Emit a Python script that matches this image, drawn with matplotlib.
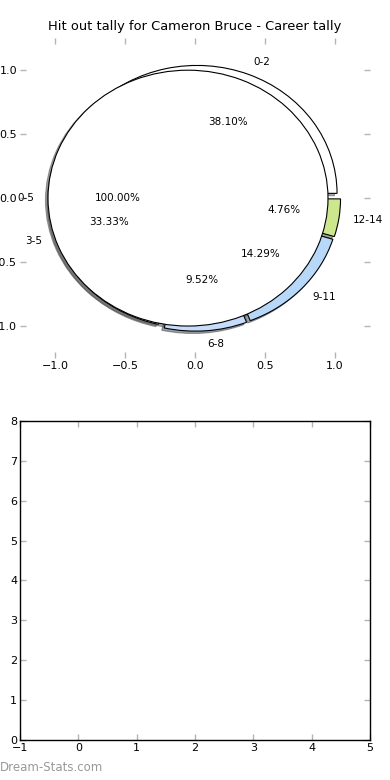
import matplotlib
matplotlib.use('Agg')
import matplotlib.pyplot as plt

# Hit out tally data
range_labels = ['0-2', '3-5', '6-8', '9-11', '12-14']
range_counts = [8, 7, 2, 3, 1]
range_colours = ['#ffffff', '#ffffff', '#c6dcfa', '#b8d8fa', '#cde88c']
range_explode = [0.04, 0.04, 0.04, 0.04, 0.04]

total_labels = ['0-5']
total_counts = [21]

pie_ticks = [-1.0, -0.5, 0.0, 0.5, 1.0]
bar_xlim = (-1, 5)
bar_ylim = (0, 8)

TICK_GREY = '#b4b4b4'
SHADOW = {'ox': -0.013, 'oy': -0.013, 'label': '_nolegend_'}


def style_ticks(ax):
    ax.tick_params(direction='in', length=4, width=1, color=TICK_GREY,
                   labelsize=8, pad=2, top=True, right=True)


def main():
    fig = plt.figure(figsize=(3.9, 7.8), dpi=100)

    # Top: pie of the tally
    ax1 = fig.add_axes([0.0513, 0.541, 0.8974, 0.410])
    ax1.pie(range_counts, labels=range_labels, colors=range_colours,
            explode=range_explode, autopct='%1.2f%%', shadow=SHADOW,
            startangle=0, textprops={'fontsize': 7.5},
            wedgeprops={'edgecolor': 'black', 'linewidth': 0.8})
    ax1.pie(total_counts, labels=total_labels, colors=['#ffffff'],
            explode=[0.05], autopct='%1.2f%%', pctdistance=0.5, shadow=SHADOW,
            startangle=0, textprops={'fontsize': 7.5},
            wedgeprops={'edgecolor': 'black', 'linewidth': 0.8})
    ax1.set_aspect('auto')
    ax1.set_xlim(-1.25, 1.25)
    ax1.set_ylim(-1.25, 1.25)
    ax1.set_xticks(pie_ticks)
    ax1.set_yticks(pie_ticks)
    ax1.set_frame_on(False)
    style_ticks(ax1)
    ax1.set_title('Hit out tally for Cameron Bruce - Career tally', fontsize=9.4, pad=6)

    # Bottom: empty axes
    ax2 = fig.add_axes([0.0513, 0.0513, 0.8974, 0.409])
    ax2.set_xlim(*bar_xlim)
    ax2.set_ylim(*bar_ylim)
    style_ticks(ax2)
    for spine in ax2.spines.values():
        spine.set_linewidth(1)

    fig.text(0.0, 0.012, 'Dream-Stats.com', fontsize=8.5, color='#999999')

    fig.savefig('out.png', dpi=100)


if __name__ == '__main__':
    main()
